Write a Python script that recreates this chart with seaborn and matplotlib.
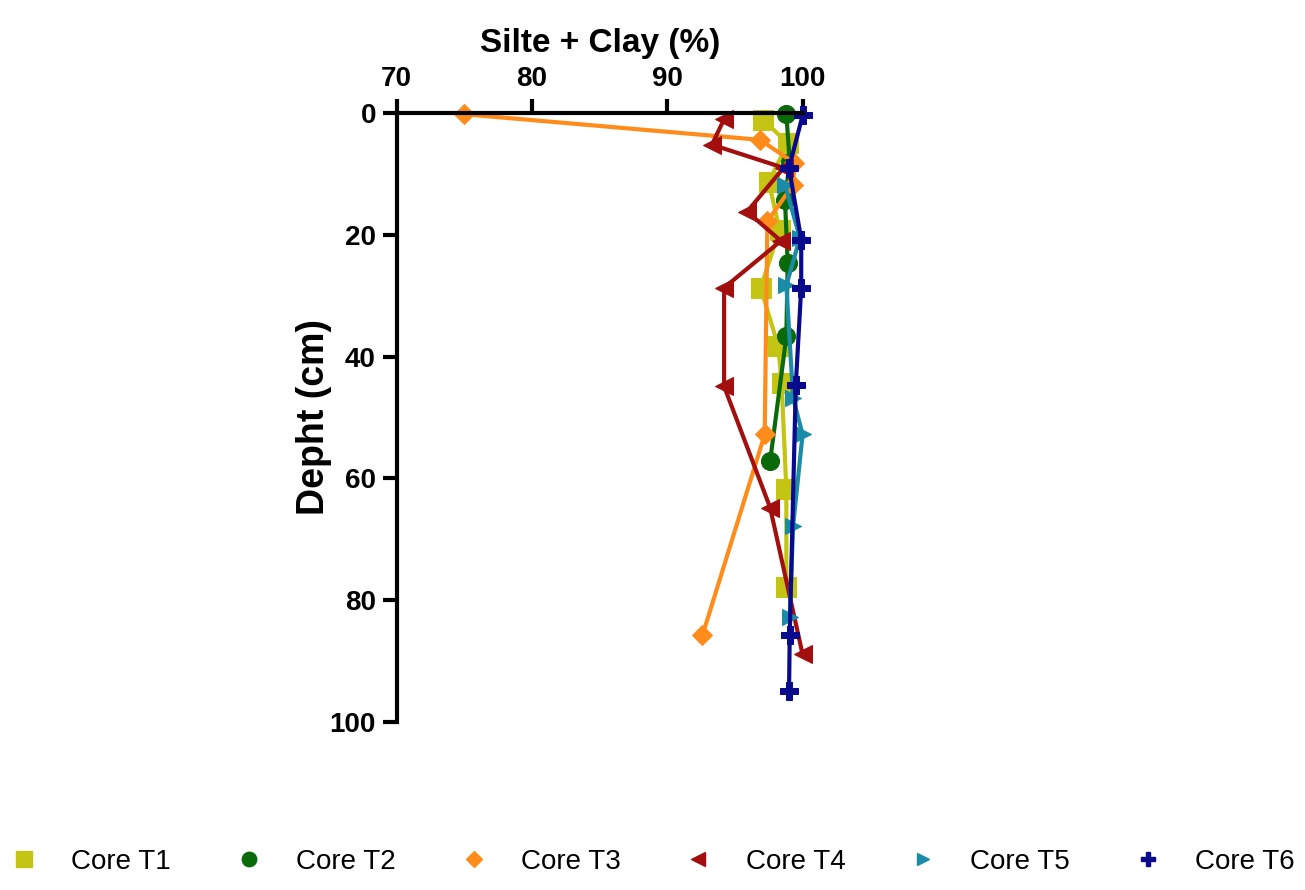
import matplotlib
matplotlib.use("Agg")
import matplotlib.pyplot as plt
from matplotlib.lines import Line2D
import seaborn as sns
import pandas as pd

# ---- data ----
series_names = ["Core T1", "Core T2", "Core T3", "Core T4", "Core T5", "Core T6"]

t1_val = [97.1, 98.9, 97.5, 98.3, 96.9, 98.2, 98.45, 98.8, 98.8]
t1_dep = [1.1, 5.0, 11.3, 19.2, 28.7, 38.3, 44.3, 61.8, 77.9]

t2_val = [98.8, 99.05, 98.7, 98.9, 98.8, 97.6]
t2_dep = [0.2, 8.0, 14.3, 24.6, 36.7, 57.2]

t3_val = [75.0, 96.85, 99.4, 99.3, 97.4, 97.2, 92.6]
t3_dep = [0.2, 4.4, 8.2, 11.8, 17.8, 52.8, 85.8]

t4_val = [94.2, 93.3, 98.6, 95.9, 98.4, 94.2, 94.2, 97.6, 100.0]
t4_dep = [1.0, 5.2, 9.0, 16.2, 21.0, 28.7, 44.9, 64.8, 88.9]

t5_val = [98.7, 99.8, 98.8, 99.3, 100.0, 99.3, 99.05]
t5_dep = [11.8, 20.5, 28.3, 46.8, 52.8, 67.8, 82.8]

t6_val = [100.0, 99.0, 99.9, 99.9, 99.5, 99.05, 99.0]
t6_dep = [0.4, 9.0, 20.8, 28.7, 44.6, 85.8, 94.9]

x_ticks = [70, 80, 90, 100]
y_ticks = [0, 20, 40, 60, 80, 100]

colors = ["#C4C414", "#0A6A0A", "#FF8C1A", "#A30F0F", "#1A8CA8", "#0A0A8C"]
markers = ["s", "o", "D", "<", ">", "P"]
msizes = [14, 13, 10, 13, 11, 13]

vals = [t1_val, t2_val, t3_val, t4_val, t5_val, t6_val]
deps = [t1_dep, t2_dep, t3_dep, t4_dep, t5_dep, t6_dep]

sns.set_theme(style="white")
plt.rcParams["font.family"] = ["Liberation Sans", "DejaVu Sans"]
plt.rcParams["text.color"] = "black"
plt.rcParams["axes.labelcolor"] = "black"
plt.rcParams["xtick.color"] = "black"
plt.rcParams["ytick.color"] = "black"

fig = plt.figure(figsize=(13.05, 8.9), dpi=100)
ax = fig.add_axes([0.304, 0.189, 0.311, 0.684])

for name, v, d, c, m, ms in zip(series_names, vals, deps, colors, markers, msizes):
    df = pd.DataFrame({"value": v, "depth": d})
    sns.lineplot(data=df, x="value", y="depth", sort=False, estimator=None,
                 color=c, marker=m, markersize=ms, markeredgecolor=c,
                 linewidth=3, ax=ax, clip_on=False, legend=False)

ax.set_xlim(70, 100)
ax.set_ylim(100, 0)
ax.set_xticks(x_ticks)
ax.set_yticks(y_ticks)
ax.xaxis.tick_top()
ax.xaxis.set_label_position("top")
ax.set_xlabel("Silte + Clay (%)", fontsize=24, fontweight="bold", labelpad=10)
ax.set_ylabel("Depht (cm)", fontsize=27, fontweight="bold", labelpad=-2)

for s in ["right", "bottom"]:
    ax.spines[s].set_visible(False)
for s in ["top", "left"]:
    ax.spines[s].set_linewidth(3)
    ax.spines[s].set_color("black")

ax.tick_params(axis="both", which="major", direction="out", length=10, width=3,
               labelsize=20, color="black", labelcolor="black", pad=5)
ax.tick_params(axis="x", top=True, bottom=False, labeltop=True, labelbottom=False)
ax.tick_params(axis="y", left=True)
for lab in ax.get_xticklabels() + ax.get_yticklabels():
    lab.set_fontweight("bold")

handles = [Line2D([0], [0], linestyle="none", marker=m, color=c, markersize=ms * 0.8,
                  markeredgecolor=c) for c, m, ms in zip(colors, markers, msizes)]
fig.legend(handles, series_names, loc="center", bbox_to_anchor=(0.5, 0.032), ncol=6,
           frameon=False, fontsize=20, handlelength=1.0, handletextpad=1.2,
           columnspacing=2.3)

fig.savefig("out.png", dpi=100)
